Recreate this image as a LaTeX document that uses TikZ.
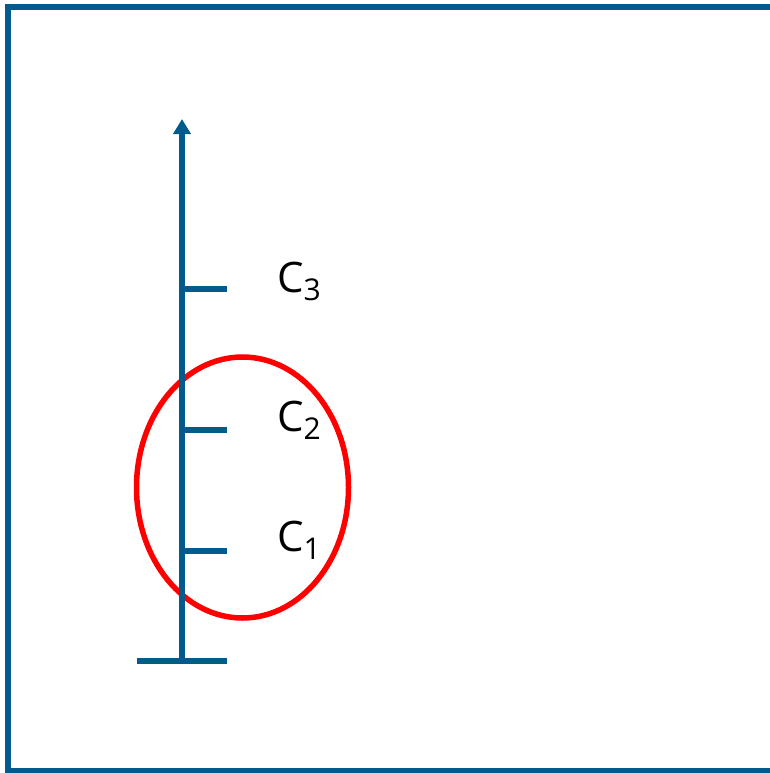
\documentclass[tikz,border=0pt]{standalone}
\usepackage{fontspec}
\setmainfont{Open Sans}
\usetikzlibrary{shapes.geometric, arrows.meta, positioning, calc}
\definecolor{axisblue}{RGB}{3,90,140}
\newcommand{\csub}[1]{C\raisebox{-8pt}{\fontsize{30}{33}\selectfont #1}}

\begin{document}
\begin{tikzpicture}[x=1pt,y=-1pt,
				axis/.style={draw=axisblue,line width=5.5pt},
				frame/.style={draw=axisblue,line width=5.5pt},
				lab/.style={anchor=base west,inner sep=0pt,font=\fontsize{42}{46}\selectfont},
				cluster/.style={ellipse,draw=red,line width=5.5pt,minimum width=212pt,minimum height=261pt,inner sep=0pt}
			]
			\useasboundingbox (0,0) rectangle (769,773);
			\draw[frame] (8,7) rectangle (774,771);
			% axis with ticks
			\coordinate (base) at (182,661);
			\coordinate (top) at (182,119);
			\coordinate (t1) at (182,551);
			\coordinate (t2) at (182,430);
			\coordinate (t3) at (182,289);
			\coordinate (bl) at (137,661);
			\coordinate (br) at (227,661);
			\node[cluster] (grp) at (242.5,487.5) {};
			\draw[axis,-{Triangle[length=15pt,width=17pt]}] (base) -- (top);
			\draw[axis] (bl) -- (br);
			\foreach \i in {1,2,3}{
				\draw[axis] (t\i) -- ++(45,0);
			}
			\node[lab] (c1) at (277,551) {\csub{1}};
			\node[lab] (c2) at (277,431) {\csub{2}};
			\node[lab] (c3) at (277,292) {\csub{3}};
			\end{tikzpicture}
\end{document}
